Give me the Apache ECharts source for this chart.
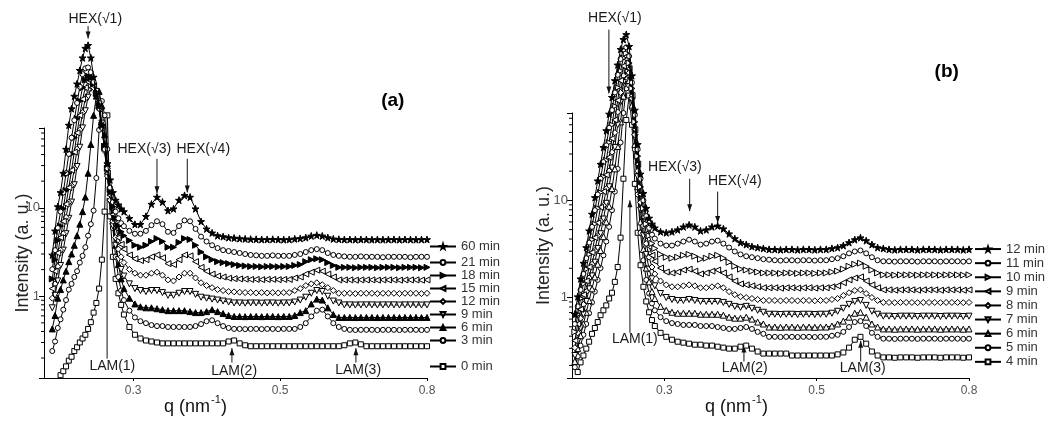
<!DOCTYPE html>
<html><head><meta charset="utf-8">
<script src="https://cdn.jsdelivr.net/npm/echarts@6/dist/echarts.min.js"></script>
<style>html,body{margin:0;padding:0;background:#fff}#c{width:1051px;height:421px}</style>
</head><body><div id="c"></div>
<script>
// ---------- data: q (nm^-1) grids ----------
const qA = [0.12,0.125,0.13,0.135,0.14,0.145,0.15,0.155,0.16,0.165,0.17,0.175,0.18,0.185,0.19,0.195,0.2,0.205,0.21,0.215,0.22,0.225,0.23,0.235,0.24,0.245,0.25,
0.26,0.27,0.28,0.29,0.3,0.31,0.32,0.33,0.34,0.35,
0.36,0.37,0.38,0.39,0.4,0.41,0.42,0.43,0.44,0.45,
0.46,0.47,0.48,0.49,0.5,0.51,0.52,0.53,0.54,0.55,
0.56,0.57,0.58,0.59,0.6,0.61,0.62,0.63,0.64,0.65,
0.66,0.67,0.68,0.69,0.7,0.71,0.72,0.73,0.74,0.75,
0.76,0.77,0.78,0.79,0.8];
const qB = [0.11,0.115,0.12,0.125,0.13,0.135,0.14,0.145,0.15,0.155,0.16,0.165,0.17,0.175,0.18,0.185,0.19,0.195,0.2,0.205,0.21,0.215,0.22,0.225,0.23,0.235,0.24,0.245,0.25,
0.26,0.27,0.28,0.29,0.3,0.31,0.32,0.33,0.34,0.35,
0.36,0.37,0.38,0.39,0.4,0.41,0.42,0.43,0.44,0.45,
0.46,0.47,0.48,0.49,0.5,0.51,0.52,0.53,0.54,0.55,
0.56,0.57,0.58,0.59,0.6,0.61,0.62,0.63,0.64,0.65,
0.66,0.67,0.68,0.69,0.7,0.71,0.72,0.73,0.74,0.75,
0.76,0.77,0.78,0.79,0.8];

// ---------- panel (a) intensities ----------
const a60 = [2.93,5.48,10.3,14.9,24.6,46,86,132,183,252,358,496,637,687,496,301,196,142,86,52,31.6,20.7,14.9,12.2,10.8,9.75,9.05,
7.6,6.5,6.5,8.0,11.0,13.2,11.6,9.3,9.75,12.2,
13.8,13.2,9.75,7.0,5.77,5.2,4.84,4.72,4.6,4.55,
4.49,4.45,4.42,4.4,4.38,4.38,4.4,4.38,4.36,4.38,
4.45,4.5,4.6,4.8,4.9,4.8,4.6,4.45,4.4,4.38,
4.38,4.36,4.38,4.38,4.36,4.38,4.36,4.38,4.38,4.36,
4.38,4.38,4.36,4.38,4.38];
const a21 = [2.02,3.32,5.91,9.05,14.9,24.6,40.6,62,97.6,153,234,324,377,386,341,265,196,132,80,46,27.9,16.9,11.6,9.05,7.6,6.7,6.2,
5.48,5.09,5.09,5.48,6.36,7.04,6.53,5.35,5.2,6.22,
7.2,7.04,5.77,4.72,4.16,3.77,3.5,3.32,3.24,3.16,
3.08,3.0,2.93,2.9,2.86,2.86,2.9,2.86,2.86,2.86,
2.93,3.0,3.16,3.32,3.41,3.32,3.08,2.93,2.86,2.82,
2.79,2.79,2.82,2.79,2.79,2.79,2.76,2.79,2.79,2.79,
2.79,2.76,2.79,2.79,2.79];
const a18 = [1.57,2.59,4.27,6.22,9.75,15.7,24.6,40.6,62,102,161,228,279,308,300,252,196,142,86,48.4,27.9,16.1,10.3,7.6,6.22,5.35,4.84,
4.27,3.77,3.58,3.77,4.16,4.49,4.16,3.58,3.58,4.06,
4.49,4.38,3.77,3.16,2.79,2.59,2.46,2.4,2.34,2.28,
2.23,2.2,2.17,2.17,2.15,2.17,2.17,2.15,2.17,2.17,
2.23,2.28,2.46,2.59,2.65,2.59,2.4,2.23,2.12,2.12,
2.12,2.1,2.12,2.12,2.12,2.1,2.12,2.12,2.12,2.1,
2.12,2.12,2.12,2.1,2.12];
const a15 = [1.22,1.92,3.08,4.6,7.04,11.0,16.9,26.6,42.6,70.4,111,169,228,265,272,240,187,132,80,46,24.6,13.8,8.4,5.91,4.6,3.86,3.41,
2.93,2.65,2.53,2.59,2.79,2.93,2.72,2.34,2.28,2.59,
2.93,2.86,2.46,2.12,1.92,1.78,1.69,1.65,1.6,1.58,
1.57,1.56,1.55,1.55,1.54,1.55,1.55,1.54,1.55,1.55,
1.61,1.65,1.78,1.87,1.97,1.92,1.78,1.65,1.53,1.53,
1.53,1.52,1.53,1.53,1.53,1.52,1.53,1.53,1.53,1.52,
1.53,1.53,1.53,1.52,1.53];
const a12 = [0.95,1.38,2.17,3.32,5.09,7.8,11.6,17.8,27.9,46,76,119,173,217,240,228,187,132,80,43.8,22.8,12.2,7.04,4.6,3.41,2.79,2.4,
2.01,1.82,1.73,1.73,1.82,1.87,1.73,1.53,1.49,1.65,
1.82,1.82,1.61,1.42,1.32,1.25,1.19,1.16,1.13,1.12,
1.11,1.1,1.1,1.09,1.1,1.09,1.1,1.09,1.1,1.1,
1.16,1.22,1.32,1.38,1.42,1.35,1.25,1.16,1.08,1.08,
1.08,1.07,1.08,1.08,1.08,1.07,1.08,1.08,1.08,1.07,
1.08,1.08,1.08,1.07,1.08];
const a9 = [0.74,1.025,1.49,2.23,3.32,5.09,7.6,11.6,18.2,29.3,48.4,80,125,178,223,234,207,149,90.5,46,22.7,11.6,6.22,3.77,2.59,2.01,1.69,
1.38,1.22,1.16,1.13,1.16,1.16,1.1,1.025,1.025,1.08,
1.13,1.13,1.05,0.975,0.95,0.928,0.905,0.882,0.86,0.839,
0.839,0.835,0.839,0.839,0.835,0.839,0.839,0.835,0.839,0.839,
0.86,0.905,0.975,1.08,1.16,1.13,1.0,0.882,0.839,0.798,
0.798,0.795,0.798,0.798,0.798,0.795,0.798,0.798,0.798,0.795,
0.798,0.798,0.798,0.795,0.798];
const a6 = [0.427,0.606,0.951,1.19,1.53,1.92,2.46,3.0,3.77,4.84,6.53,9.05,13.2,24.6,52,111,183,207,142,67,31.6,14.9,7.04,3.77,2.28,1.57,1.22,
0.951,0.818,0.759,0.74,0.74,0.722,0.705,0.687,0.687,0.687,
0.687,0.67,0.653,0.653,0.67,0.705,0.67,0.637,0.606,0.591,
0.591,0.588,0.591,0.591,0.588,0.591,0.591,0.588,0.591,0.591,
0.606,0.653,0.687,0.818,0.928,0.905,0.74,0.621,0.576,0.576,
0.576,0.574,0.576,0.576,0.576,0.574,0.576,0.576,0.576,0.574,
0.576,0.576,0.576,0.574,0.576];
const a3 = [0.24,0.308,0.438,0.548,0.705,0.905,1.19,1.38,1.65,1.92,2.4,2.86,3.58,4.84,6.53,9.3,21.7,76,161,111,46,14.9,5.91,2.79,1.65,1.16,0.905,
0.687,0.576,0.522,0.496,0.472,0.46,0.46,0.449,0.449,0.449,
0.449,0.449,0.46,0.484,0.522,0.535,0.496,0.46,0.438,0.427,
0.427,0.425,0.427,0.427,0.425,0.427,0.427,0.425,0.427,0.427,
0.427,0.449,0.496,0.591,0.687,0.705,0.591,0.496,0.449,0.427,
0.417,0.415,0.417,0.417,0.417,0.415,0.417,0.417,0.417,0.415,
0.417,0.417,0.417,0.415,0.417];
const a0 = [null,null,null,0.128,0.142,0.161,0.187,0.207,0.24,0.265,0.3,0.333,0.367,0.427,0.509,0.653,0.839,1.22,2.59,9.05,111,8.0,2.79,1.57,1.08,0.798,0.621,
0.449,0.367,0.333,0.316,0.308,0.3,0.293,0.293,0.293,0.293,
0.293,0.293,0.293,0.293,0.293,0.293,0.293,0.293,0.308,0.316,
0.293,0.279,0.272,0.272,0.272,0.272,0.272,0.272,0.272,0.272,
0.272,0.272,0.272,0.272,0.272,0.272,0.272,0.272,0.272,0.279,
0.293,0.3,0.286,0.272,0.272,0.272,0.272,0.272,0.272,0.272,
0.272,0.272,0.272,0.272,0.272];

// ---------- panel (b) intensities ----------
const b12 = [0.673,1.02,1.56,2.26,3.27,4.86,7.22,10.7,15.9,23.6,35.1,52.2,77.4,115,171,248,359,454,510,385,192,85,37.7,18.7,11.8,8.3,6.58,5.72,5.21,
4.75,4.64,4.75,4.98,5.34,5.59,5.34,4.86,4.98,5.34,
5.46,5.1,4.53,4.04,3.68,3.51,3.35,3.27,3.2,3.13,
3.13,3.1,3.13,3.13,3.1,3.13,3.13,3.1,3.13,3.13,
3.2,3.27,3.43,3.68,3.94,4.13,3.85,3.51,3.27,3.2,
3.13,3.1,3.13,3.13,3.13,3.1,3.13,3.13,3.13,3.1,
3.13,3.13,3.13,3.1,3.13];
const b11 = [0.534,0.811,1.2,1.75,2.54,3.68,5.34,7.93,11.5,16.7,24.8,36.8,55.9,85,129,196,285,359,376,305,163,75.7,33.5,16.7,10.0,6.89,5.21,4.43,4.04,
3.59,3.43,3.43,3.59,3.77,3.94,3.77,3.51,3.59,3.77,
3.85,3.59,3.27,2.98,2.78,2.66,2.6,2.54,2.48,2.45,
2.42,2.4,2.42,2.42,2.4,2.42,2.42,2.4,2.42,2.42,
2.48,2.54,2.66,2.85,2.98,3.05,2.85,2.6,2.42,2.36,
2.36,2.34,2.36,2.36,2.36,2.34,2.36,2.36,2.36,2.34,
2.36,2.36,2.36,2.34,2.36];
const b10 = [0.443,0.673,0.977,1.385,1.96,2.78,3.94,5.72,8.3,12.05,17.5,25.9,39.4,60,93.3,145,215,292,327,259,142,64.3,28.5,13.8,8.3,5.72,4.33,3.6,3.2,
2.78,2.6,2.54,2.6,2.72,2.78,2.66,2.48,2.54,2.66,
2.72,2.54,2.31,2.1,1.96,1.92,1.87,1.83,1.79,1.79,
1.79,1.77,1.79,1.79,1.77,1.79,1.79,1.77,1.79,1.79,
1.83,1.87,1.96,2.1,2.2,2.26,2.1,1.92,1.79,1.71,
1.71,1.7,1.71,1.71,1.71,1.7,1.71,1.71,1.71,1.7,
1.71,1.71,1.71,1.7,1.71];
const b9 = [0.36,0.534,0.756,1.07,1.48,2.06,2.91,4.13,5.86,8.5,12.3,18.3,27.8,43.3,67.3,107,171,242,285,226,120,53.4,23.6,11.5,6.73,4.54,3.35,2.72,2.36,
2.01,1.83,1.79,1.83,1.92,1.96,1.87,1.75,1.79,1.87,
1.92,1.79,1.63,1.48,1.38,1.35,1.32,1.29,1.26,1.26,
1.26,1.25,1.26,1.26,1.25,1.26,1.26,1.25,1.26,1.26,
1.29,1.32,1.42,1.52,1.59,1.63,1.48,1.35,1.26,1.2,
1.2,1.19,1.2,1.2,1.2,1.19,1.2,1.2,1.2,1.19,
1.2,1.2,1.2,1.19,1.2];
const b8 = [0.305,0.433,0.613,0.85,1.15,1.59,2.2,3.05,4.33,6.14,8.9,13.2,20.1,31.3,49.8,81.1,129,192,237,206,112,47.5,20.1,9.54,5.46,3.59,2.6,2.06,1.75,
1.48,1.35,1.29,1.29,1.32,1.35,1.32,1.26,1.26,1.29,
1.32,1.26,1.15,1.07,1.02,1.0,0.977,0.955,0.933,0.933,
0.933,0.925,0.933,0.933,0.925,0.933,0.933,0.925,0.933,0.933,
0.955,0.977,1.05,1.12,1.18,1.2,1.1,1.0,0.933,0.89,
0.89,0.885,0.89,0.89,0.89,0.885,0.89,0.89,0.89,0.885,
0.89,0.89,0.89,0.885,0.89];
const b7 = [0.253,0.351,0.486,0.673,0.911,1.23,1.67,2.31,3.2,4.54,6.43,9.32,13.8,21.5,35.1,60,102,163,215,192,107,44.3,17.5,7.93,4.33,2.78,1.96,1.56,1.32,
1.1,1.0,0.955,0.933,0.933,0.955,0.933,0.911,0.911,0.911,
0.911,0.89,0.85,0.811,0.792,0.811,0.774,0.739,0.705,0.673,
0.673,0.668,0.673,0.673,0.668,0.673,0.673,0.668,0.673,0.673,
0.689,0.722,0.774,0.85,0.911,0.933,0.83,0.722,0.673,0.643,
0.643,0.638,0.643,0.643,0.643,0.638,0.643,0.643,0.643,0.638,
0.643,0.643,0.643,0.638,0.643];
const b6 = [0.22,0.298,0.404,0.534,0.705,0.933,1.23,1.63,2.2,3.05,4.23,6.0,8.7,13.2,21.1,35.9,64.3,118,179,171,95.5,37.7,13.8,6.0,3.13,2.01,1.45,1.15,0.977,
0.811,0.739,0.705,0.689,0.689,0.689,0.689,0.673,0.673,0.673,
0.673,0.658,0.628,0.613,0.613,0.628,0.6,0.559,0.534,0.497,
0.497,0.494,0.497,0.497,0.494,0.497,0.497,0.494,0.497,0.497,
0.509,0.534,0.572,0.628,0.689,0.705,0.628,0.534,0.497,0.475,
0.475,0.472,0.475,0.475,0.475,0.472,0.475,0.475,0.475,0.472,
0.475,0.475,0.475,0.472,0.475];
const b5 = [0.192,0.248,0.32,0.413,0.534,0.689,0.89,1.15,1.52,2.01,2.72,3.77,5.34,7.93,12.3,21.1,39.4,79.3,142,152,89,33.5,11.5,4.64,2.42,1.52,1.1,0.87,0.739,
0.628,0.572,0.546,0.534,0.522,0.522,0.522,0.509,0.509,0.509,
0.497,0.486,0.475,0.475,0.486,0.497,0.475,0.443,0.423,0.394,
0.394,0.392,0.394,0.394,0.392,0.394,0.394,0.392,0.394,0.394,
0.404,0.413,0.443,0.497,0.559,0.572,0.509,0.433,0.394,0.377,
0.377,0.375,0.377,0.377,0.377,0.375,0.377,0.377,0.377,0.375,
0.377,0.377,0.377,0.375,0.377];
const b4 = [null,0.171,0.215,0.253,0.298,0.351,0.423,0.486,0.559,0.658,0.739,0.83,0.977,1.12,1.45,2.06,4.13,16.7,67.3,120,60,14.8,4.64,2.15,1.29,0.911,0.705,0.586,0.509,
0.433,0.394,0.368,0.351,0.343,0.335,0.327,0.327,0.32,0.32,
0.312,0.305,0.298,0.298,0.312,0.32,0.298,0.278,0.265,0.265,
0.265,0.265,0.265,0.253,0.253,0.253,0.253,0.253,0.253,0.253,
0.253,0.26,0.272,0.305,0.368,0.394,0.335,0.278,0.253,0.242,
0.242,0.24,0.242,0.242,0.242,0.24,0.242,0.242,0.242,0.24,
0.242,0.242,0.242,0.24,0.242];

// ---------- labels / ticks ----------
const namesA = ['60 min','21 min','18 min','15 min','12 min','9 min','6 min','3 min','0 min'];
const namesB = ['12 min','11 min','10 min','9 min','8 min','7 min','6 min','5 min','4 min'];
const xTickValues = [0.26667, 0.53333, 0.8];
const yMinorTicks = [0.2,0.3,0.4,0.5,0.6,0.7,0.8,0.9,2,3,4,5,6,7,8,9,20,30,40,50,60,70,80];

const FONT = '"Liberation Sans", Arial, Helvetica, sans-serif';
const STAR = 'path://M50,0 L61,35 L98,35 L68,57 L79,91 L50,70 L21,91 L32,57 L2,35 L39,35 Z';
const TRI = 'triangle';

const styleA = [
  {sym: STAR, fill: true, rot: 0, size: 7},
  {sym: 'circle', fill: false, rot: 0, size: 5},
  {sym: TRI, fill: true, rot: -90, size: 6},
  {sym: TRI, fill: false, rot: 90, size: 6},
  {sym: 'diamond', fill: false, rot: 0, size: 6},
  {sym: TRI, fill: false, rot: 180, size: 6},
  {sym: TRI, fill: true, rot: 0, size: 6},
  {sym: 'circle', fill: false, rot: 0, size: 5},
  {sym: 'rect', fill: false, rot: 0, size: 5}
];
const styleB = [
  {sym: STAR, fill: true, rot: 0, size: 7},
  {sym: 'circle', fill: false, rot: 0, size: 5},
  {sym: TRI, fill: false, rot: -90, size: 6},
  {sym: TRI, fill: false, rot: 90, size: 6},
  {sym: 'diamond', fill: false, rot: 0, size: 6},
  {sym: TRI, fill: false, rot: 180, size: 6},
  {sym: TRI, fill: false, rot: 0, size: 6},
  {sym: 'circle', fill: false, rot: 0, size: 5},
  {sym: 'rect', fill: false, rot: 0, size: 5}
];
const dataA = [a60,a21,a18,a15,a12,a9,a6,a3,a0];
const dataB = [b12,b11,b10,b9,b8,b7,b6,b5,b4];

function mkSeries(prefix, names, datas, q, gi, styles) {
  return names.map((n, k) => ({
    name: prefix + n, type: 'line', xAxisIndex: gi, yAxisIndex: gi,
    data: q.map((x, i) => [x, datas[k][i] == null ? '-' : datas[k][i]]),
    symbol: styles[k].sym, symbolSize: styles[k].size, symbolRotate: styles[k].rot,
    showSymbol: true, showAllSymbol: true, clip: false, silent: true,
    lineStyle: {color: '#000', width: 1},
    itemStyle: {color: styles[k].fill ? '#000' : '#fff', borderColor: '#000', borderWidth: 1},
    emphasis: {disabled: true}, z: 2 + (names.length - k) * 0.01
  }));
}

function logLabel(v) {
  const l = Math.log10(v);
  return Math.abs(l - Math.round(l)) < 1e-6 ? String(Math.round(Math.pow(10, Math.round(l)))) : '';
}

function xAxisCfg(gi, padRight) {
  return {
    gridIndex: gi, type: 'value', min: 0.105, max: 0.8,
    axisLine: {lineStyle: {color: '#000', width: 1}},
    axisTick: {customValues: xTickValues, length: 3, lineStyle: {color: '#000'}},
    axisLabel: {customValues: xTickValues, formatter: v => v.toFixed(1), fontSize: 12, color: '#555', margin: 7, fontFamily: FONT},
    splitLine: {show: false},
    name: '{t|q (nm}{s|-1}{t|)}', nameLocation: 'middle', nameGap: 16, nameMoveOverlap: false,
    nameTextStyle: {padding: [0, padRight, 0, 0], rich: {
      t: {fontSize: 18, color: '#111', fontFamily: FONT, lineHeight: 22, verticalAlign: 'bottom'},
      s: {fontSize: 11, color: '#111', fontFamily: FONT, lineHeight: 22, verticalAlign: 'top', padding: [0, 0, 0, 1]}
    }}
  };
}
function yAxisCfg(gi, min, max, gap) {
  return {
    gridIndex: gi, type: 'log', logBase: 10, min: min, max: max,
    axisLine: {show: true, lineStyle: {color: '#000', width: 1}},
    axisTick: {length: 5, lineStyle: {color: '#000'}},
    axisLabel: {formatter: logLabel, fontSize: 13, color: '#555', margin: 4, fontFamily: FONT},
    splitLine: {show: false},
    name: 'Intensity (a. u.)', nameLocation: 'middle', nameGap: gap, nameMoveOverlap: false,
    nameTextStyle: {fontSize: 18, color: '#222', fontFamily: FONT}
  };
}

const legendText = {fontSize: 13, color: '#333', fontFamily: FONT};
function legendCfg(names, left, top, lh) {
  return {data: names, orient: 'vertical', left: left, top: top, itemWidth: 26, itemHeight: 6, itemGap: 0,
    selectedMode: false, padding: 0, formatter: n => n.slice(2),
    textStyle: Object.assign({lineHeight: lh, height: lh}, legendText)};
}

const option = {
  animation: false,
  backgroundColor: '#fff',
  grid: [
    {left: 44, top: 128, width: 383, height: 260},
    {left: 572, top: 113, width: 397, height: 270}
  ],
  xAxis: [xAxisCfg(0, 80), xAxisCfg(1, 68)],
  yAxis: [yAxisCfg(0, 0.119, 79.8, 12), yAxisCfg(1, 0.1485, 79.3, 19)],
  legend: [
    legendCfg(['a|60 min'], 429, 240, 13),
    legendCfg(['a|21 min','a|18 min','a|15 min','a|12 min','a|9 min','a|6 min','a|3 min'], 429, 256, 13),
    legendCfg(['a|0 min'], 429, 360, 13),
    legendCfg(namesB.map(n => 'b|' + n), 974, 242, 14.1)
  ],
  series: [].concat(mkSeries('a|', namesA, dataA, qA, 0, styleA), mkSeries('b|', namesB, dataB, qB, 1, styleB))
};

const chart = echarts.init(document.getElementById('c'), null, {renderer: 'canvas'});
chart.setOption(option);

// ---------- annotations (anchored in data coordinates) ----------
const annA = [
  {t: 'HEX(√1)', q: 0.185, from: 1133, to: 819, head: true, tq: 0.198, tv: 1352},
  {t: 'HEX(√3)', q: 0.31, from: 35.8, to: 14.6, head: true, tq: 0.287, tv: 46},
  {t: 'HEX(√4)', q: 0.365, from: 35.8, to: 14.9, head: true, tq: 0.394, tv: 46},
  {t: 'LAM(1)', q: 0.2195, from: 0.197, to: 13, head: false, tq: 0.229, tv: 0.161},
  {t: 'LAM(2)', q: 0.446, from: 0.178, to: 0.259, head: true, tq: 0.45, tv: 0.142},
  {t: 'LAM(3)', q: 0.671, from: 0.178, to: 0.259, head: true, tq: 0.675, tv: 0.146}
];
const annB = [
  {t: 'HEX(√1)', q: 0.1696, from: 572, to: 126, head: true, tq: 0.18, tv: 757},
  {t: 'HEX(√3)', q: 0.311, from: 16.7, to: 7.74, head: true, tq: 0.285, tv: 22},
  {t: 'HEX(√4)', q: 0.36, from: 12.3, to: 5.86, head: true, tq: 0.39, tv: 15.9},
  {t: 'LAM(1)', q: 0.2064, from: 0.433, to: 10, head: true, tq: 0.215, tv: 0.377},
  {t: 'LAM(2)', q: 0.406, from: 0.22, to: 0.32, head: true, tq: 0.4075, tv: 0.187},
  {t: 'LAM(3)', q: 0.6104, from: 0.22, to: 0.359, head: true, tq: 0.614, tv: 0.187}
];
const panelLabels = [{t: '(a)', gi: 0, q: 0.738, v: 161}, {t: '(b)', gi: 1, q: 0.761, v: 210}];

const els = [];
function P(gi, q, v) { return chart.convertToPixel({gridIndex: gi}, [q, v]); }
[[annA, 0], [annB, 1]].forEach(([list, gi]) => {
  list.forEach(a => {
    const p1 = P(gi, a.q, a.from), p2 = P(gi, a.q, a.to);
    els.push({type: 'line', silent: true, shape: {x1: p1[0], y1: p1[1], x2: p2[0], y2: p2[1]}, style: {stroke: '#111', lineWidth: 1}});
    if (a.head) {
      const d = p2[1] > p1[1] ? 1 : -1;
      els.push({type: 'polygon', silent: true, shape: {points: [[p2[0], p2[1]], [p2[0] - 2.5, p2[1] - d * 7], [p2[0] + 2.5, p2[1] - d * 7]]}, style: {fill: '#111'}});
    }
    const pt = P(gi, a.tq, a.tv);
    els.push({type: 'text', silent: true, x: pt[0], y: pt[1], style: {text: a.t, align: 'center', verticalAlign: 'middle', textAlign: 'center', textVerticalAlign: 'middle', font: '14px ' + FONT, fill: '#1a1a1a'}});
  });
});
panelLabels.forEach(l => {
  const pt = P(l.gi, l.q, l.v);
  els.push({type: 'text', silent: true, x: pt[0], y: pt[1], style: {text: l.t, align: 'center', verticalAlign: 'middle', textAlign: 'center', textVerticalAlign: 'middle', font: 'bold 19px ' + FONT, fill: '#000'}});
});
// minor ticks of the log axes
[[0, 0.119, 79.8], [1, 0.1485, 79.3]].forEach(([gi, mn, mx]) => {
  yMinorTicks.forEach(v => {
    if (v <= mn || v >= mx) return;
    const p = P(gi, 0.105, v);
    els.push({type: 'line', silent: true, shape: {x1: p[0] - 3, y1: p[1], x2: p[0], y2: p[1]}, style: {stroke: '#000', lineWidth: 1}});
  });
});
chart.setOption({graphic: {elements: els}});
</script>
</body></html>
